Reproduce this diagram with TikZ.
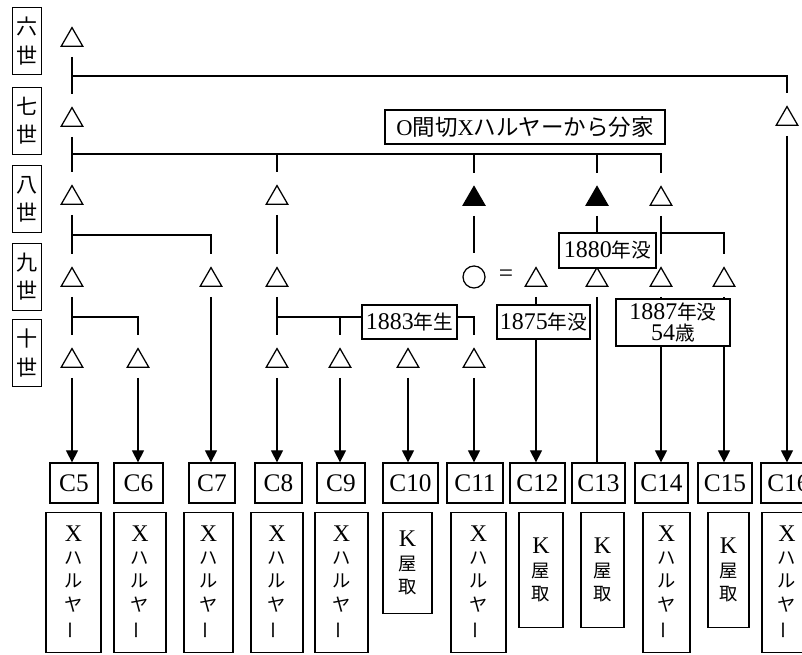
\documentclass[tikz,border=0pt]{standalone}
\usepackage{fontspec}
\usepackage{tikz}
\usetikzlibrary{arrows.meta,shapes.geometric}
\setmainfont{Liberation Serif}
\newfontfamily\jp{Noto Sans CJK JP}
\newcommand{\kana}[1]{{\jp\fontsize{13}{16.5}\selectfont #1}}
\newcommand{\jn}[1]{{\jp\fontsize{14}{16}\selectfont #1}}
\newcommand{\xharu}{X\\\kana{ハ}\\\kana{ル}\\\kana{ヤ}\\\kana{\rotatebox[origin=c]{90}{ー}}}
\newcommand{\kyadu}{K\\\kana{屋}\\\kana{取}}

\begin{document}
\begin{tikzpicture}[x=0.025cm, y=-0.025cm,
    lk/.style={line width=0.9pt},
    fromtri/.style={shorten <=0.25cm},
    totri/.style={shorten >=0.3cm},
    arr/.style={-{Triangle[length=0.3cm,width=0.3cm]}},
    gen/.style={draw, line width=0.9pt, align=center, inner sep=0pt, minimum width=0.74cm, minimum height=1.67cm, font=\jp\fontsize{15}{20}\selectfont},
    tri/.style={regular polygon, regular polygon sides=3, draw, line width=0.9pt, minimum size=0.62cm, inner sep=0pt},
    dead/.style={tri, fill=black},
    note/.style={draw, fill=white, line width=0.9pt, inner sep=1pt, align=center, minimum height=0.85cm, font=\fontsize{17}{15.5}\selectfont},
    cbox/.style={draw, line width=0.9pt, inner sep=1pt, minimum height=1cm, font=\fontsize{18}{19}\selectfont},
    house/.style={draw, line width=0.9pt, anchor=north, align=center, inner sep=1pt, font=\fontsize{17}{16.5}\selectfont}]
  \useasboundingbox (0,0) rectangle (802,655);

  % generations
  \node[gen] (g6) at (27,41) {六\\世};
  \node[gen] (g7) at (27,121) {七\\世};
  \node[gen] (g8) at (27,199) {八\\世};
  \node[gen] (g9) at (27,277) {九\\世};
  \node[gen] (g10) at (27,353) {十\\世};

  % persons
  \node[tri] (t6) at (72,40) {};
  \node[tri] (t7a) at (72,120) {};
  \node[tri] (t7b) at (787,119) {};
  \node[tri] (t8a) at (72,198) {};
  \node[tri] (t8b) at (277,198) {};
  \node[dead] (t8c) at (474,199) {};
  \node[dead] (t8d) at (597,199) {};
  \node[tri] (t8e) at (661,199) {};
  \node[tri] (t9a) at (72,280) {};
  \node[tri] (t9b) at (211,280) {};
  \node[tri] (t9c) at (277,280) {};
  \node[circle, draw, line width=0.9pt, minimum size=0.55cm, inner sep=0pt] (w9) at (474,277) {};
  \node[font=\fontsize{18}{18}\selectfont] (eq) at (506,276) {=};
  \node[tri] (t9e) at (536,280) {};
  \node[tri] (t9f) at (597,280) {};
  \node[tri] (t9g) at (661,280) {};
  \node[tri] (t9h) at (724,280) {};
  \node[tri] (t10a) at (72,361) {};
  \node[tri] (t10b) at (138,361) {};
  \node[tri] (t10c) at (277,361) {};
  \node[tri] (t10d) at (340,361) {};
  \node[tri] (t10e) at (408,361) {};
  \node[tri] (t10f) at (474,361) {};

  % households
  \node[cbox, minimum width=1.2cm] (c5) at (74,483) {C5};
  \node[cbox, minimum width=1.22cm] (c6) at (138.5,483) {C6};
  \node[cbox, minimum width=1.15cm] (c7) at (212,483) {C7};
  \node[cbox, minimum width=1.18cm] (c8) at (278.5,483) {C8};
  \node[cbox, minimum width=1.2cm] (c9) at (341,483) {C9};
  \node[cbox, minimum width=1.37cm] (c10) at (410.5,483) {C10};
  \node[cbox, minimum width=1.4cm] (c11) at (475,483) {C11};
  \node[cbox, minimum width=1.37cm] (c12) at (537.5,483) {C12};
  \node[cbox, minimum width=1.33cm] (c13) at (598.5,483) {C13};
  \node[cbox, minimum width=1.33cm] (c14) at (661.5,483) {C14};
  \node[cbox, minimum width=1.35cm] (c15) at (725,483) {C15};
  \node[cbox, minimum width=1.38cm] (c16) at (788.5,483) {C16};

  \node[house, minimum width=1.37cm, minimum height=3.5cm] (h5) at (73.5,512) {\xharu};
  \node[house, minimum width=1.3cm, minimum height=3.5cm] (h6) at (140,512) {\xharu};
  \node[house, minimum width=1.22cm, minimum height=3.5cm] (h7) at (208.5,512) {\xharu};
  \node[house, minimum width=1.3cm, minimum height=3.5cm] (h8) at (277,512) {\xharu};
  \node[house, minimum width=1.32cm, minimum height=3.5cm] (h9) at (341.5,512) {\xharu};
  \node[house, minimum width=1.22cm, minimum height=2.52cm] (h10) at (407.5,512) {\kyadu};
  \node[house, minimum width=1.37cm, minimum height=3.5cm] (h11) at (478.5,512) {\xharu};
  \node[house, minimum width=1.1cm, minimum height=2.87cm] (h12) at (541,512) {\kyadu};
  \node[house, minimum width=1.08cm, minimum height=2.87cm] (h13) at (602.5,512) {\kyadu};
  \node[house, minimum width=1.18cm, minimum height=3.5cm] (h14) at (666.5,512) {\xharu};
  \node[house, minimum width=1.03cm, minimum height=2.87cm] (h15) at (728.5,512) {\kyadu};
  \node[house, minimum width=1.25cm, minimum height=3.5cm] (h16) at (787,512) {\xharu};

  % junctions
  \coordinate (j6) at (72,76);
  \coordinate (j7) at (72,154);
  \coordinate (j8) at (72,235);
  \coordinate (j8e) at (661,233);
  \coordinate (j9) at (72,317);
  \coordinate (j9c) at (277,317);

  % lines
  \draw[lk, fromtri, totri] (t6.south) -- (t7a.north);
  \draw[lk, totri] (j6) -| (t7b.north);
  \draw[lk, fromtri, arr] (t7b.south) -- (t7b.south |- c16.north);
  \draw[lk, fromtri, totri] (t7a.south) -- (t8a.north);
  \draw[lk, totri] (j7) -| (t8e.north);
  \draw[lk, totri] (j7 -| t8b) -- (t8b.north);
  \draw[lk, totri] (j7 -| t8c) -- (t8c.north);
  \draw[lk, totri] (j7 -| t8d) -- (t8d.north);
  \node[note, minimum width=7cm, font=\fontsize{16}{17}\selectfont] (split) at (525,127) {O{\jp 間切}X{\jp ハルヤーから分家}};

  \draw[lk, fromtri, totri] (t8a.south) -- (t9a.north);
  \draw[lk, totri] (j8) -| (t9b.north);
  \draw[lk, fromtri, totri] (t8b.south) -- (t9c.north);
  \draw[lk, fromtri, totri] (t8c.south) -- (w9.north);
  \node[note, minimum width=2.43cm, minimum height=0.875cm] (d1880) at (607.5,250.5) {1880\jn{年没}};
  \draw[lk, fromtri] (t8d.south) -- (t8d.south |- d1880.north);
  \draw[lk, fromtri, totri] (t8e.south) -- (t9g.north);
  \draw[lk, totri] (j8e) -| (t9h.north);

  \draw[lk, fromtri, totri] (t9a.south) -- (t10a.north);
  \draw[lk, totri] (j9) -| (t10b.north);
  \draw[lk, fromtri, arr] (t9b.south) -- (t9b.south |- c7.north);
  \draw[lk, fromtri, totri] (t9c.south) -- (t10c.north);
  \draw[lk, totri] (j9c) -| (t10f.north);
  \draw[lk, totri] (j9c -| t10d) -- (t10d.north);
  \node[note, minimum width=2.38cm] (b1883) at (409.5,322) {1883\jn{年生}};
  \node[note, minimum width=2.33cm] (d1875) at (543.5,322) {1875\jn{年没}};
  \draw[lk, fromtri] (t9e.south) -- (t9e.south |- d1875.north);
  \draw[lk, arr] (t9e.south |- d1875.south) -- (t9e.south |- c12.north);
  \draw[lk, fromtri] (t9f.south) -- (t9f.south |- c13.north);
  \node[note, minimum width=2.85cm, minimum height=1.18cm] (d1887) at (673,322.5) {1887\jn{年没}\\54\jn{歳}};
  \draw[lk, fromtri] (t9g.south) -- (t9g.south |- d1887.north);
  \draw[lk, arr] (t9g.south |- d1887.south) -- (t9g.south |- c14.north);
  \draw[lk, fromtri] (t9h.south) -- (t9h.south |- d1887.north);
  \draw[lk, arr] (t9h.south |- d1887.south) -- (t9h.south |- c15.north);

  \draw[lk, fromtri, arr] (t10a.south) -- (t10a.south |- c5.north);
  \draw[lk, fromtri, arr] (t10b.south) -- (t10b.south |- c6.north);
  \draw[lk, fromtri, arr] (t10c.south) -- (t10c.south |- c8.north);
  \draw[lk, fromtri, arr] (t10d.south) -- (t10d.south |- c9.north);
  \draw[lk, fromtri, arr] (t10e.south) -- (t10e.south |- c10.north);
  \draw[lk, fromtri, arr] (t10f.south) -- (t10f.south |- c11.north);
\end{tikzpicture}
\end{document}
